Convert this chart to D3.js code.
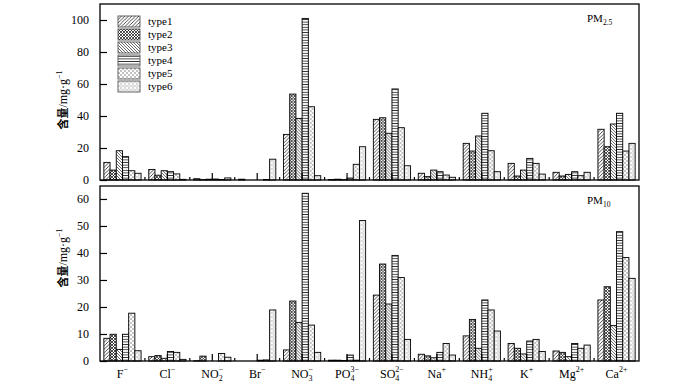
<!DOCTYPE html>
<html>
<head>
<meta charset="utf-8">
<script src="https://cdn.jsdelivr.net/npm/d3@7"></script>
<style>
  body { margin: 0; background: #fff; }
  svg text { font-family: "Liberation Serif", "DejaVu Serif", serif; fill: #000; }
</style>
</head>
<body>
<div id="chart"></div>
<script>
// ions on the x axis
const categories = ['F-', 'Cl-', 'NO2-', 'Br-', 'NO3-', 'PO43-', 'SO42-', 'Na+', 'NH4+', 'K+', 'Mg2+', 'Ca2+'];
const catBase = ['F', 'Cl', 'NO', 'Br', 'NO', 'PO', 'SO', 'Na', 'NH', 'K', 'Mg', 'Ca'];
const catSub  = ['', '', '2', '', '3', '4', '4', '', '4', '', '', ''];
const catSup  = ['\u2212', '\u2212', '\u2212', '\u2212', '\u2212', '3\u2212', '2\u2212', '+', '+', '+', '2+', '2+'];

const types = ['type1', 'type2', 'type3', 'type4', 'type5', 'type6'];

// one row per ion, values for type1..type6 (mg/g)
const pm25Values = [
    [11, 6.2, 18.3, 14.6, 5.8, 4.2],
    [6.6, 3, 5.8, 5.2, 3.8, 0.4],
    [0.8, 0.2, 0.5, 0.6, 0.3, 1.3],
    [0.5, 0, 0, 0, 0.3, 13],
    [28.5, 53.7, 38.5, 101, 45.8, 2.7],
    [0.3, 0.5, 0.2, 1.2, 9.8, 20.8],
    [37.9, 38.9, 29.2, 56.9, 32.7, 8.9],
    [4.2, 2.1, 6.2, 5.2, 3.1, 1.7],
    [22.9, 18.1, 27.5, 41.7, 18.3, 5.2],
    [10.4, 2.5, 6.2, 13.5, 10.4, 3.7],
    [4.8, 2.5, 3.5, 5.2, 2.7, 4.8],
    [31.7, 20.8, 35, 41.7, 18.1, 22.9]
];

const pm10Values = [
    [8.4, 9.9, 4.3, 9.9, 17.7, 3.8],
    [1.6, 2, 1, 3.5, 3.2, 0.6],
    [0.1, 1.8, 0, 0, 2.8, 1.4],
    [0, 0, 0, 0.3, 0.4, 18.9],
    [4.1, 22.2, 14.3, 62.1, 13.3, 3.2],
    [0.3, 0.3, 0.2, 2.2, 0.3, 52],
    [24.4, 35.9, 21.1, 39.1, 30.9, 8],
    [2.5, 1.9, 1.2, 3.2, 6.5, 2.2],
    [9.3, 15.4, 4.7, 22.6, 18.9, 11.1],
    [6.5, 4.7, 2.6, 7.4, 8, 3.5],
    [3.7, 3.2, 1.6, 6.5, 4.7, 5.9],
    [22.6, 27.5, 13.1, 47.9, 38.3, 30.6]
];

const pm25Ticks = [0, 20, 40, 60, 80, 100];
const pm10Ticks = [0, 10, 20, 30, 40, 50, 60];

const width = 700;
const height = 383;
const left = 100, right = 639;

const svg = d3.select('#chart')
    .append('svg')
    .attr('width', width)
    .attr('height', height);

// fill patterns for the six types
const defs = svg.append('defs');

function addPattern(id, size, draw) {
    const p = defs.append('pattern')
        .attr('id', id)
        .attr('patternUnits', 'userSpaceOnUse')
        .attr('width', size)
        .attr('height', size);
    p.append('rect').attr('width', size).attr('height', size).attr('fill', '#fff');
    draw(p, size);
}

addPattern('p1', 3.5, (p, s) => {
    p.append('path').attr('d', `M0,${s} L${s},0 M${-s / 2},${s / 2} L${s / 2},${-s / 2} M${s / 2},${s * 1.5} L${s * 1.5},${s / 2}`)
        .attr('stroke', '#000').attr('stroke-width', 0.7);
});
addPattern('p2', 3, (p, s) => {
    p.append('path').attr('d', `M0,0 L${s},${s} M0,${s} L${s},0`)
        .attr('stroke', '#000').attr('stroke-width', 0.7);
    p.append('circle').attr('cx', s / 2).attr('cy', 0).attr('r', 0.6).attr('fill', '#fff');
});
addPattern('p3', 3, (p, s) => {
    p.append('path').attr('d', `M0,0 L${s},${s} M${-s / 2},${s / 2} L${s / 2},${s * 1.5} M${s / 2},${-s / 2} L${s * 1.5},${s / 2}`)
        .attr('stroke', '#000').attr('stroke-width', 0.6);
});
addPattern('p4', 2.6, (p, s) => {
    p.append('line').attr('x1', 0).attr('x2', s).attr('y1', s / 2).attr('y2', s / 2)
        .attr('stroke', '#000').attr('stroke-width', 0.7);
});
addPattern('p5', 4, (p, s) => {
    p.append('path').attr('d', 'M0.5,0.5 L1.5,1.5 M0.5,1.5 L1.5,0.5 M2.5,2.5 L3.5,3.5 M2.5,3.5 L3.5,2.5')
        .attr('stroke', '#333').attr('stroke-width', 0.6);
});
addPattern('p6', 4, (p, s) => {
    p.append('path').attr('d', 'M0.5,0.5 L1.5,1.5 M0.5,1.5 L1.5,0.5 M2.5,2.5 L3.5,3.5 M2.5,3.5 L3.5,2.5')
        .attr('stroke', '#666').attr('stroke-width', 0.5);
    p.append('rect').attr('x', 2.6).attr('y', 0.6).attr('width', 0.8).attr('height', 0.8).attr('fill', '#777');
});

const fills = d3.scaleOrdinal().domain(types).range(['url(#p1)', 'url(#p2)', 'url(#p3)', 'url(#p4)', 'url(#p5)', 'url(#p6)']);

const x0 = d3.scaleBand().domain(categories).range([left, right]).paddingInner(0).paddingOuter(0);
const x1 = d3.scaleBand().domain(types).range([0, x0.bandwidth()]).paddingInner(0).paddingOuter(0.62);

function drawPanel(values, yMax, ticks, top, bottom, tag, labelY) {
    const y = d3.scaleLinear().domain([0, yMax]).range([bottom, top]);
    const g = svg.append('g');

    // bars
    const groups = g.selectAll('g.grp')
        .data(values)
        .join('g')
        .attr('class', 'grp')
        .attr('transform', (d, i) => `translate(${x0(categories[i])},0)`);

    groups.selectAll('rect')
        .data(d => d.map((v, j) => ({ type: types[j], value: v })))
        .join('rect')
        .attr('x', d => x1(d.type))
        .attr('y', d => y(d.value))
        .attr('width', x1.bandwidth())
        .attr('height', d => bottom - y(d.value))
        .attr('fill', d => fills(d.type))
        .attr('stroke', '#000')
        .attr('stroke-width', 0.9);

    // y axis, ticks pointing inward
    const yAxis = g.append('g')
        .attr('transform', `translate(${left},0)`)
        .call(d3.axisLeft(y).tickValues(ticks).tickSize(-7).tickPadding(11).tickFormat(d3.format('d')));
    yAxis.select('.domain').remove();
    yAxis.selectAll('line').attr('stroke', '#000').attr('stroke-width', 1.2);
    yAxis.selectAll('text').attr('font-size', 12).attr('font-family', '"Liberation Serif", serif');

    // x ticks: major at category centres, minor at boundaries
    const xAxis = g.append('g')
        .attr('transform', `translate(0,${bottom})`)
        .call(d3.axisBottom(x0).tickSize(-7).tickFormat(''));
    xAxis.select('.domain').remove();
    xAxis.selectAll('text').remove();
    xAxis.selectAll('line').attr('stroke', '#000').attr('stroke-width', 1.2);
    g.append('g').selectAll('line')
        .data(categories.slice(1))
        .join('line')
        .attr('x1', d => x0(d))
        .attr('x2', d => x0(d))
        .attr('y1', bottom)
        .attr('y2', bottom - 3)
        .attr('stroke', '#000')
        .attr('stroke-width', 1.2);

    // frame
    g.append('rect')
        .attr('x', left)
        .attr('y', top)
        .attr('width', right - left)
        .attr('height', bottom - top)
        .attr('fill', 'none')
        .attr('stroke', '#000')
        .attr('stroke-width', 1.3);

    // panel tag (PM2.5 / PM10)
    const t = g.append('text')
        .attr('x', 587)
        .attr('y', top + 18)
        .attr('font-size', 11);
    t.append('tspan').text('PM');
    t.append('tspan').attr('font-size', 7.5).attr('dy', 2.5).text(tag);

    // y label
    const yl = g.append('text')
        .attr('transform', `translate(67,${labelY}) rotate(-90)`)
        .attr('text-anchor', 'middle')
        .attr('font-size', 12);
    yl.append('tspan').attr('font-family', '"Noto Sans CJK SC", sans-serif').attr('font-weight', 'bold').attr('font-size', 11).text('含量');
    yl.append('tspan').text('/mg·g');
    yl.append('tspan').attr('font-size', 8).attr('dy', -5).text('\u22121');
}

drawPanel(pm25Values, 110, pm25Ticks, 4, 180, '2.5', 100);
drawPanel(pm10Values, 64.8, pm10Ticks, 186, 361, '10', 258);

// category labels under the bottom panel
const labels = svg.append('g').selectAll('text')
    .data(categories)
    .join('text')
    .attr('x', d => x0(d) + x0.bandwidth() / 2)
    .attr('y', 378)
    .attr('text-anchor', 'middle')
    .attr('font-size', 12);

labels.each(function (d, i) {
    const t = d3.select(this);
    t.append('tspan').text(catBase[i]);
    if (catSub[i]) {
        t.append('tspan').attr('font-size', 8).attr('dy', 3).text(catSub[i]);
        t.append('tspan').attr('font-size', 8).attr('dx', -4).attr('dy', -9).text(catSup[i]);
    } else {
        t.append('tspan').attr('font-size', 8).attr('dy', -6).text(catSup[i]);
    }
});

// legend
const legend = svg.append('g').selectAll('g')
    .data(types)
    .join('g')
    .attr('transform', (d, i) => `translate(118,${16 + i * 13})`);

legend.append('rect')
    .attr('width', 22)
    .attr('height', 11)
    .attr('fill', d => fills(d))
    .attr('stroke', '#555')
    .attr('stroke-width', 0.9);

legend.append('text')
    .attr('x', 30)
    .attr('y', 9)
    .attr('font-size', 11)
    .text(d => d);
</script>
</body>
</html>
